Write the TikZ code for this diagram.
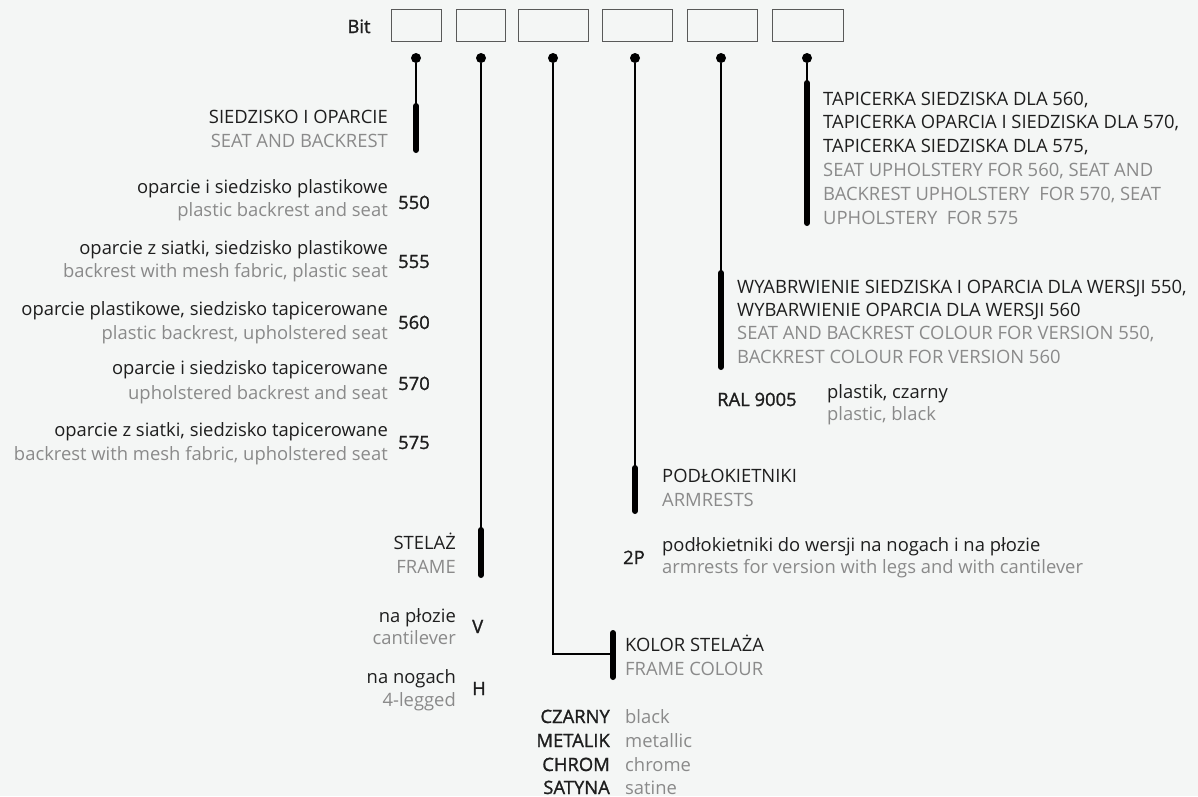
\documentclass[tikz,border=0pt]{standalone}
\usepackage{fontspec}
\setmainfont{Open Sans}
\newfontfamily\medfont{Open Sans}[FakeBold=1.3]
\definecolor{bg}{HTML}{F4F6F5}
\definecolor{ink}{HTML}{1E1E1E}
\definecolor{grey}{HTML}{8A8A8A}
\begin{document}
\begin{tikzpicture}[x=1pt, y=-1pt, line cap=round,
    every node/.style={inner sep=0pt, text=ink, font=\fontsize{18.4}{22}\selectfont},
    pl/.style={text=ink},
    en/.style={text=grey},
    num/.style={text=ink, font=\fontsize{18.4}{22}\selectfont\medfont},
    bitbox/.style={draw=black!65, line width=0.9pt, minimum height=32pt},
    dot/.style={circle, fill=black, minimum size=10pt},
    wire/.style={black, line width=1.3pt},
    bar/.style={black, line width=6pt}]
  % tlo i ramka
  \fill[bg] (0,0) rectangle (1198,796);
  \useasboundingbox (0,0) rectangle (1198,796);

  % 1. pola kodu
  \node[num, anchor=base] (bit) at (359,33) {Bit};
  \node[bitbox, minimum width=49.5pt] (b1) at (416.5,25.5) {};
  \node[bitbox, minimum width=49pt] (b2) at (480.5,25.5) {};
  \node[bitbox, minimum width=70pt] (b3) at (553,25.5) {};
  \node[bitbox, minimum width=70pt] (b4) at (637,25.5) {};
  \node[bitbox, minimum width=70pt] (b5) at (722,25.5) {};
  \node[bitbox, minimum width=70.5pt] (b6) at (808,25.5) {};

  % 2. kropki i odcinki
  \node[dot] (d1) at (416,58) {};
  \node[dot] (d2) at (481,58) {};
  \node[dot] (d3) at (553,58) {};
  \node[dot] (d4) at (635,58) {};
  \node[dot] (d5) at (721,58) {};
  \node[dot] (d6) at (807,58) {};
  \coordinate (s1a) at (416,106);  \coordinate (s1b) at (416,150);
  \coordinate (s2a) at (481,530);  \coordinate (s2b) at (481,575);
  \coordinate (k3) at (553,654);
  \coordinate (s3a) at (613,633);  \coordinate (s3b) at (613,677);
  \coordinate (s3m) at (613,654);
  \coordinate (s4a) at (635,468);  \coordinate (s4b) at (635,511);
  \coordinate (s5a) at (721,273);  \coordinate (s5b) at (721,367);
  \coordinate (s6a) at (807,83);   \coordinate (s6b) at (807,223);
  \draw[wire] (d1) -- (s1a);
  \draw[wire] (d2) -- (s2a);
  \draw[wire] (d3) -- (k3) -- (s3m);
  \draw[wire] (d4) -- (s4a);
  \draw[wire] (d5) -- (s5a);
  \draw[wire] (d6) -- (s6a);
  \draw[bar] (s1a) -- (s1b);
  \draw[bar] (s2a) -- (s2b);
  \draw[bar] (s3a) -- (s3b);
  \draw[bar] (s4a) -- (s4b);
  \draw[bar] (s5a) -- (s5b);
  \draw[bar] (s6a) -- (s6b);

  % 3. siedzisko i oparcie
  \node[pl, anchor=base east] (h1pl) at (388,123) {SIEDZISKO I OPARCIE};
  \node[en, anchor=base east] (h1en) at (388,147) {SEAT AND BACKREST};
  \node[pl, anchor=base east] (t550pl) at (388,193) {oparcie i siedzisko plastikowe};
  \node[en, anchor=base east] (t550en) at (388,216) {plastic backrest and seat};
  \node[num, anchor=base west] (t550) at (398,209) {550};
  \node[pl, anchor=base east] (t555pl) at (388,254) {oparcie z siatki, siedzisko plastikowe};
  \node[en, anchor=base east] (t555en) at (388,277) {backrest with mesh fabric, plastic seat};
  \node[num, anchor=base west] (t555) at (398,268) {555};
  \node[pl, anchor=base east] (t560pl) at (388,315) {oparcie plastikowe, siedzisko tapicerowane};
  \node[en, anchor=base east] (t560en) at (388,339) {plastic backrest, upholstered seat};
  \node[num, anchor=base west] (t560) at (398,329) {560};
  \node[pl, anchor=base east] (t570pl) at (388,374) {oparcie i siedzisko tapicerowane};
  \node[en, anchor=base east] (t570en) at (388,399) {upholstered backrest and seat};
  \node[num, anchor=base west] (t570) at (398,390) {570};
  \node[pl, anchor=base east] (t575pl) at (388,436) {oparcie z siatki, siedzisko tapicerowane};
  \node[en, anchor=base east] (t575en) at (388,460) {backrest with mesh fabric, upholstered seat};
  \node[num, anchor=base west] (t575) at (398,449) {575};

  % 4. stelaz
  \node[pl, anchor=base east] (h2pl) at (456,549) {STELAŻ};
  \node[en, anchor=base east] (h2en) at (456,573) {FRAME};
  \node[pl, anchor=base east] (vpl) at (456,622) {na płozie};
  \node[en, anchor=base east] (ven) at (456,644) {cantilever};
  \node[num, anchor=base west] (tv) at (472,633) {V};
  \node[pl, anchor=base east] (hpl) at (456,683) {na nogach};
  \node[en, anchor=base east] (hen) at (456,706) {4-legged};
  \node[num, anchor=base west] (th) at (472,695) {H};

  % 5. kolor stelaza
  \node[pl, anchor=base west] (h3pl) at (625,651) {KOLOR STELAŻA};
  \node[en, anchor=base west] (h3en) at (625,675) {FRAME COLOUR};
  \node[num, anchor=base east] (czarny) at (610,723) {CZARNY};
  \node[en, anchor=base west] (black) at (625,723) {black};
  \node[num, anchor=base east] (metalik) at (610,747) {METALIK};
  \node[en, anchor=base west] (metallic) at (625,747) {metallic};
  \node[num, anchor=base east] (chrom) at (610,771) {CHROM};
  \node[en, anchor=base west] (chrome) at (625,771) {chrome};
  \node[num, anchor=base east] (satyna) at (610,794) {SATYNA};
  \node[en, anchor=base west] (satine) at (625,794) {satine};

  % 6. podlokietniki
  \node[pl, anchor=base west] (h4pl) at (662,482) {PODŁOKIETNIKI};
  \node[en, anchor=base west] (h4en) at (662,506) {ARMRESTS};
  \node[num, anchor=base west] (t2p) at (623,564) {2P};
  \node[pl, anchor=base west] (t2ppl) at (662,551) {podłokietniki do wersji na nogach i na płozie};
  \node[en, anchor=base west] (t2pen) at (662,573) {armrests for version with legs and with cantilever};

  % 7. wybarwienie
  \node[pl, anchor=base west] (h5a) at (737,293) {WYABRWIENIE SIEDZISKA I OPARCIA DLA WERSJI 550,};
  \node[pl, anchor=base west] (h5b) at (737,316) {WYBARWIENIE OPARCIA DLA WERSJI 560};
  \node[en, anchor=base west] (h5c) at (737,339) {SEAT AND BACKREST COLOUR FOR VERSION 550,};
  \node[en, anchor=base west] (h5d) at (737,363) {BACKREST COLOUR FOR VERSION 560};
  \node[num, anchor=base west] (ral) at (717,406) {RAL 9005};
  \node[pl, anchor=base west] (ralpl) at (827,398) {plastik, czarny};
  \node[en, anchor=base west] (ralen) at (827,420) {plastic, black};

  % 8. tapicerka
  \node[pl, anchor=base west] (h6a) at (823,105) {TAPICERKA SIEDZISKA DLA 560,};
  \node[pl, anchor=base west] (h6b) at (823,128) {TAPICERKA OPARCIA I SIEDZISKA DLA 570,};
  \node[pl, anchor=base west] (h6c) at (823,152) {TAPICERKA SIEDZISKA DLA 575,};
  \node[en, anchor=base west] (h6d) at (823,176) {SEAT UPHOLSTERY FOR 560, SEAT AND};
  \node[en, anchor=base west] (h6e) at (823,200) {BACKREST UPHOLSTERY\ \ FOR 570, SEAT};
  \node[en, anchor=base west] (h6f) at (823,224) {UPHOLSTERY\ \ FOR 575};
\end{tikzpicture}
\end{document}
